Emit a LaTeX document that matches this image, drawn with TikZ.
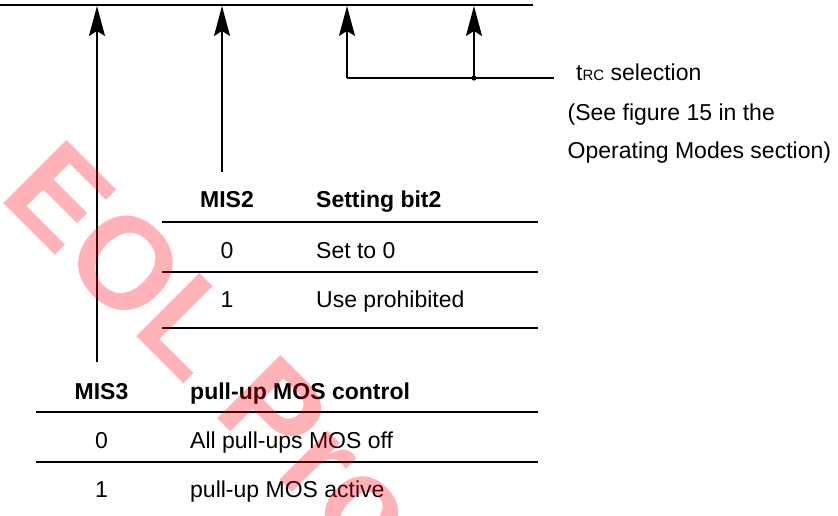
\documentclass[tikz,border=0pt]{standalone}
\usepackage{fontspec}
\setmainfont{Liberation Sans}
\usetikzlibrary{arrows.meta}
\definecolor{wm}{RGB}{255,0,20}
\begin{document}
\begin{tikzpicture}[x=1pt,y=-1pt,
  txt/.style={inner sep=0pt,anchor=base west,font=\fontsize{23}{27}\selectfont},
  ctxt/.style={inner sep=0pt,anchor=base,font=\fontsize{23}{27}\selectfont},
  btxt/.style={inner sep=0pt,anchor=base west,font=\fontsize{23}{27}\selectfont\bfseries},
  bctxt/.style={inner sep=0pt,anchor=base,font=\fontsize{23}{27}\selectfont\bfseries},
  bus/.style={line width=2.6pt},
  sig/.style={line width=1.2pt,-{Stealth[length=30pt,width=16pt,inset=5pt]}},
  wire/.style={line width=1.2pt},
  thick rule/.style={line width=2.2pt},
  thin rule/.style={line width=1.2pt}]
\useasboundingbox (0,0) rectangle (838,515);
% bus line
\coordinate (busL) at (0,5);
\coordinate (busR) at (533,5);
\draw[bus] (busL) -- (busR);
% arrow tops
\coordinate (t3) at (97,6);
\coordinate (t2) at (222,6);
\coordinate (t1) at (347,6);
\coordinate (t0) at (474,6);
% arrow bottoms
\coordinate (b3) at (97,362);
\coordinate (b2) at (222,172);
\coordinate (b1) at (347,78);
\coordinate (b0) at (474,78);
\coordinate (trcend) at (554,78);
\draw[sig] (b3) -- (t3);
\draw[sig] (b2) -- (t2);
\draw[sig] (b1) -- (t1);
\draw[sig] (b0) -- (t0);
\draw[wire] (b1) -- (trcend);
\fill (b0) circle (2.6pt);
% right texts
\node[txt] (trc) at (576,80) {t{\fontsize{15}{15}\selectfont RC} selection};
\node[txt] (see) at (567.5,120) {(See figure 15 in the};
\node[txt] (opm) at (567.5,158) {Operating Modes section)};
% MIS2 table
\node[bctxt] (m2h) at (227,207) {MIS2};
\node[btxt] (m2d) at (316,207) {Setting bit2};
\draw[thick rule] (162,222) -- (538,222);
\node[ctxt] (m2a) at (227,258) {0};
\node[txt] (m2b) at (316,258) {Set to 0};
\draw[thin rule] (162,272) -- (538,272);
\node[ctxt] (m2c) at (227,307) {1};
\node[txt] (m2e) at (316,307) {Use prohibited};
\draw[thick rule] (162,328) -- (538,328);
% MIS3 table
\node[bctxt] (m3h) at (101.5,399) {MIS3};
\node[btxt] (m3d) at (190,399) {pull-up MOS control};
\draw[thick rule] (36,412) -- (538,412);
\node[ctxt] (m3a) at (101.5,448) {0};
\node[txt] (m3b) at (190,448) {All pull-ups MOS off};
\draw[thin rule] (36,462) -- (538,462);
\node[ctxt] (m3c) at (101.5,497) {1};
\node[txt] (m3e) at (190,497) {pull-up MOS active};
% watermark
\node[rotate=-45,text=wm,opacity=0.3,inner sep=0pt,font=\fontsize{130}{130}\selectfont\bfseries] (wmk) at (213,350) {EOL Pro};
\end{tikzpicture}
\end{document}
